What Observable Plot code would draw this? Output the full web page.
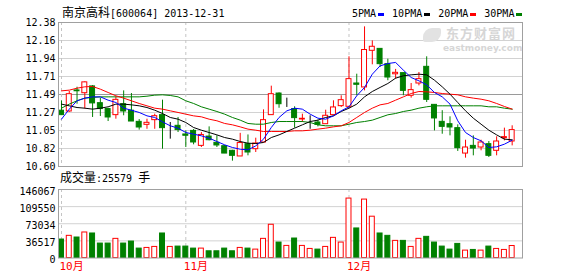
<!DOCTYPE html>
<html><head><meta charset="utf-8">
<script src="https://cdn.jsdelivr.net/npm/d3@7"></script>
<script src="https://cdn.jsdelivr.net/npm/@observablehq/plot@0.6"></script>
<style>
body{margin:0;background:#fff;}
#wrap{position:relative;width:578px;height:276px;overflow:hidden;background:#fff;font-family:"DejaVu Sans Mono","Noto Sans CJK SC",monospace;color:#000;}
.abs{position:absolute;white-space:nowrap;line-height:1;}
.cjk{font-family:"Noto Sans CJK SC",sans-serif;font-size:12px;}
#legend{display:flex;align-items:center;font-size:10px;}
#legend .sw{display:inline-block;width:6px;height:3px;margin:0 8px 0 2px;}
</style></head><body>
<div id="wrap">
  <div id="p1" class="abs" style="left:0;top:0"></div>
  <div id="p2" class="abs" style="left:0;top:170px"></div>
  <div class="abs" style="left:423px;top:28px;width:18px;height:14px;border-radius:9px 2px 9px 2px;background:#e2e2e2"></div>
  <div class="abs" style="left:446px;top:26px;color:#d6d6d6;font-family:'Noto Sans CJK SC';font-weight:bold;font-size:13px;line-height:13px;letter-spacing:1px">东方财富网</div>
  <div class="abs" style="left:443px;top:44px;color:#d6d6d6;font-family:'DejaVu Sans';font-weight:bold;font-size:9px;line-height:9px">eastmoney.com</div>
  <div id="title" class="abs" style="left:62px;top:6px;font-size:10px"></div>
  <div id="legend" class="abs" style="left:352px;top:9px"></div>
  <div id="vollabel" class="abs" style="left:60px;top:171px;font-size:10px"></div>
</div>
<script>
// ---- data ----
const stockName = "南京高科";
const stockCode = "600064";
const lastDate = "2013-12-31";
const open  = [11.29,11.28,11.54,11.506,11.59,11.383,11.31,11.235,11.37,11.29,11.152,11.115,11.173,11.235,11.082,11.103,10.996,11.04,10.855,10.97,10.893,10.851,10.794,10.724,10.876,10.814,10.897,11.235,11.502,11.404,11.31,11.181,11.173,11.144,11.123,11.235,11.346,11.338,11.626,11.577,12.03,12.054,11.865,11.74,11.754,11.474,11.626,11.832,11.362,11.152,11.123,11.074,10.76,10.855,10.835,10.876,10.794,10.95,10.909];
const high  = [11.41,11.527,11.58,11.647,11.60,11.445,11.32,11.46,11.535,11.502,11.18,11.185,11.247,11.42,11.144,11.206,11.04,11.057,11.02,11.09,10.98,10.86,10.80,11.01,10.99,10.95,11.30,11.593,11.51,11.445,11.338,11.247,11.227,11.173,11.296,11.412,11.474,11.956,11.741,12.326,12.153,12.054,11.927,11.80,11.754,11.626,11.762,11.956,11.362,11.29,11.214,11.115,10.925,10.979,10.925,10.909,10.967,11.074,11.103];
const low   = [11.23,11.27,11.37,11.31,11.206,11.218,11.156,11.185,11.227,11.156,11.05,11.06,11.06,10.814,10.938,11.02,10.835,10.868,10.835,10.917,10.835,10.76,10.666,10.724,10.732,10.773,10.897,11.235,11.32,11.33,11.074,11.144,11.06,11.09,11.123,11.227,11.33,11.32,11.474,11.535,11.857,11.824,11.66,11.68,11.474,11.445,11.597,11.391,11.04,10.999,10.979,10.786,10.703,10.732,10.794,10.711,10.732,10.917,10.855];
const close = [11.235,11.494,11.53,11.64,11.38,11.31,11.206,11.424,11.28,11.156,11.082,11.14,11.222,11.074,11.082,11.05,10.98,10.897,10.99,10.925,10.86,10.76,10.732,10.89,10.773,10.884,11.173,11.494,11.37,11.404,11.198,11.19,11.173,11.115,11.227,11.33,11.42,11.68,11.61,12.04,12.08,11.865,11.70,11.758,11.535,11.544,11.68,11.424,11.194,11.09,11.082,10.827,10.835,10.822,10.897,10.732,10.909,10.963,11.05];
const volume = [39380,47256,43676,54416,52268,30788,30788,40812,30788,35084,20048,21480,23628,52268,23628,24344,24344,20048,20048,14320,14320,20048,14320,21480,20048,17900,40812,70884,32936,25776,41528,25776,19332,17900,23628,42960,32936,126732,63008,124584,88068,52268,47256,36516,36516,23628,40812,45108,32936,24344,17900,30072,15752,17184,15752,24344,19332,17184,25579];
const ma5  = [11.185,11.309,11.412,11.445,11.461,11.461,11.420,11.391,11.321,11.296,11.268,11.226,11.206,11.152,11.103,11.074,11.020,11.000,10.979,10.950,10.909,10.868,10.835,10.814,10.806,10.855,10.938,11.082,11.206,11.288,11.321,11.309,11.247,11.197,11.185,11.226,11.288,11.338,11.474,11.577,11.741,11.844,11.873,11.886,11.791,11.700,11.659,11.609,11.515,11.461,11.371,11.165,11.020,10.958,10.917,10.835,10.843,10.876,10.925];
const ma10 = [11.371,11.350,11.329,11.321,11.309,11.321,11.338,11.371,11.371,11.362,11.350,11.329,11.296,11.255,11.206,11.185,11.144,11.082,11.049,11.020,10.991,10.958,10.938,10.909,10.888,10.884,10.897,10.958,10.991,11.033,11.074,11.115,11.156,11.173,11.206,11.226,11.280,11.321,11.371,11.461,11.527,11.577,11.626,11.692,11.721,11.733,11.741,11.733,11.667,11.585,11.494,11.391,11.288,11.197,11.123,11.049,10.991,10.938,10.930];
const ma20 = [11.535,11.544,11.568,11.585,11.589,11.556,11.515,11.474,11.445,11.412,11.379,11.350,11.321,11.309,11.288,11.268,11.247,11.226,11.214,11.185,11.165,11.132,11.115,11.090,11.062,11.049,11.033,11.033,11.033,11.033,11.041,11.041,11.049,11.062,11.074,11.090,11.103,11.144,11.206,11.268,11.321,11.362,11.379,11.420,11.461,11.502,11.527,11.523,11.515,11.502,11.494,11.486,11.461,11.445,11.432,11.412,11.379,11.342,11.309];
const ma30 = [11.321,11.371,11.412,11.445,11.453,11.461,11.461,11.461,11.461,11.461,11.461,11.469,11.482,11.486,11.478,11.461,11.412,11.379,11.338,11.309,11.280,11.247,11.206,11.173,11.132,11.123,11.123,11.144,11.156,11.156,11.156,11.156,11.144,11.115,11.103,11.103,11.103,11.123,11.144,11.156,11.173,11.206,11.239,11.255,11.280,11.296,11.321,11.338,11.350,11.350,11.350,11.350,11.350,11.350,11.350,11.338,11.338,11.321,11.309];
const maNames  = ["5PMA","10PMA","20PMA","30PMA"];
const maColors = ["#0000ff","#000000","#ff0000","#008000"];
const priceTicks = [10.60,10.8225,11.045,11.2675,11.49,11.7125,11.935,12.1575,12.38];
const priceTickLabels = ["10.60","10.82","11.05","11.27","11.49","11.71","11.94","12.16","12.38"];
const volTicks = [0,36517,73034,109550,146067];
const volTickLabels = ["0","36517","73034","109550","146067"];
const monthStarts = [0,16,37];
const monthLabels = ["10月","11月","12月"];
const volUnitLabel = "成交量";
const volUnit = "手";

// ---- styles ----
const UP = "#ff0000", DOWN = "#008000", FLAT = "#000000";
const GRID = "#d2d2d2", MID = "#9a9a9a", FRAME = "#a0a0a0", DASH = "#c4c4c4";
const xDomain = [-0.386, 59.33];
const half = 0.32;

const rows = open.map((o, i) => ({i, open: o, high: high[i], low: low[i], close: close[i], vol: volume[i],
  dir: close[i] > o ? "up" : close[i] < o ? "down" : "flat"}));
const colorOf = {up: UP, down: DOWN, flat: FLAT};

document.getElementById("title").innerHTML =
  `<span class="cjk">${stockName}</span>[${stockCode}] ${lastDate}`;
document.getElementById("legend").innerHTML = maNames.map((n, k) =>
  `<span>${n}</span><span class="sw" style="background:${maColors[k]}"></span>`).join("");
document.getElementById("vollabel").innerHTML =
  `<span class="cjk">${volUnitLabel}</span>:${volume[volume.length-1]} <span class="cjk">${volUnit}</span>`;

const font = {fontFamily: "DejaVu Sans Mono, Noto Sans CJK SC, monospace", fontSize: "10px", background: "transparent", overflow: "visible"};

const candleMarks = [];
for (const dir of ["up", "down", "flat"]) {
  const sub = rows.filter(d => d.dir === dir);
  const c = colorOf[dir];
  candleMarks.push(Plot.ruleX(sub, {x: "i", y1: "low", y2: "high", stroke: c, strokeWidth: 1}));
  candleMarks.push(Plot.rect(sub, {x1: d => d.i - half, x2: d => d.i + half, y1: "open", y2: "close",
    fill: dir === "down" ? c : "#ffffff", stroke: c, strokeWidth: 1}));
}

const p1 = Plot.plot({
  width: 578, height: 170,
  marginLeft: 58, marginRight: 56, marginTop: 22, marginBottom: 4,
  style: font,
  x: {domain: xDomain, axis: null},
  y: {domain: [priceTicks[0], priceTicks[priceTicks.length-1]], axis: null, label: null},
  marks: [
    Plot.ruleY(priceTicks.filter(t => t !== 11.49 && t !== priceTicks[0] && t !== priceTicks[priceTicks.length-1]), {stroke: GRID}),
    Plot.ruleY([11.49], {stroke: MID}),
    Plot.ruleX(monthStarts, {stroke: DASH, strokeDasharray: "3,3"}),
    ...candleMarks,
    ...[ma30, ma20, ma10, ma5].map((m, k) => Plot.lineY(m, {x: (d, i) => i, y: d => d, stroke: maColors[3 - k], strokeWidth: 1})),
    Plot.frame({stroke: FRAME}),
    Plot.axisY(priceTicks, {tickSize: 0, tickPadding: 3, label: null, tickFormat: d => priceTickLabels[priceTicks.indexOf(d)], fill: "#000"})
  ]
});
document.getElementById("p1").appendChild(p1);

const volMarks = [];
for (const dir of ["up", "down", "flat"]) {
  const sub = rows.filter(d => d.dir === dir);
  const c = dir === "down" ? DOWN : UP;
  volMarks.push(Plot.rect(sub, {x1: d => d.i - half, x2: d => d.i + half, y1: d => 0, y2: "vol",
    fill: dir === "down" ? c : "#ffffff", stroke: c, strokeWidth: 1}));
}

const p2 = Plot.plot({
  width: 578, height: 106,
  marginLeft: 58, marginRight: 56, marginTop: 19, marginBottom: 18.5,
  style: font,
  x: {domain: xDomain, axis: null, label: null},
  y: {domain: [0, volTicks[volTicks.length-1]], axis: null, label: null},
  marks: [
    Plot.ruleY(volTicks.slice(1, -1), {stroke: GRID}),
    Plot.ruleX(monthStarts, {stroke: DASH, strokeDasharray: "3,3"}),
    ...volMarks,
    Plot.frame({stroke: FRAME}),
    Plot.axisY(volTicks, {tickSize: 0, tickPadding: 3, dy: 2, label: null, tickFormat: d => volTickLabels[volTicks.indexOf(d)], fill: "#000"}),
    Plot.axisX(monthStarts, {tickSize: 0, tickPadding: 4, textAnchor: "start", dx: -2, label: null, tickFormat: d => monthLabels[monthStarts.indexOf(d)], fill: "#ff0000", fontSize: 11})
  ]
});
document.getElementById("p2").appendChild(p2);
</script>
</body></html>
